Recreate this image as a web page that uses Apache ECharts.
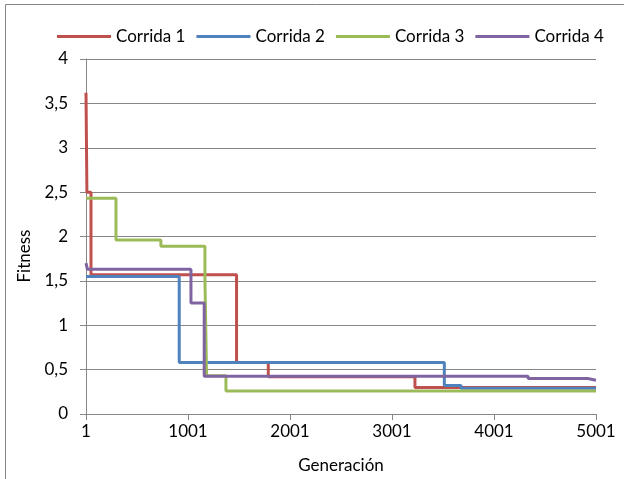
<!DOCTYPE html>
<html>
<head>
<meta charset="utf-8">
<script src="https://cdn.jsdelivr.net/npm/echarts@6/dist/echarts.min.js"></script>
<style>
html,body{margin:0;padding:0;background:#fff;}
#chart{width:624px;height:479px;}
</style>
</head>
<body>
<div id="chart"></div>
<script>
// Series names
const seriesNames = ['Corrida 1', 'Corrida 2', 'Corrida 3', 'Corrida 4'];
// Generation where each value begins (step data)
const gen1 = [1, 10, 50, 1477, 1788, 3226, 5001];
const fit1 = [3.62, 2.50, 1.57, 0.58, 0.42, 0.30, 0.30];
const gen2 = [1, 915, 3514, 3678, 5001];
const fit2 = [1.55, 0.58, 0.32, 0.29, 0.29];
const gen3 = [1, 295, 735, 1167, 1183, 1373, 5001];
const fit3 = [2.43, 1.96, 1.89, 1.53, 0.43, 0.26, 0.26];
const gen4 = [1, 15, 1030, 1160, 4335, 4920, 5001];
const fit4 = [1.70, 1.63, 1.25, 0.425, 0.40, 0.38, 0.38];
// Tick labels
const xTicks = [1, 1001, 2001, 3001, 4001, 5001];
const yTicks = [0, 0.5, 1, 1.5, 2, 2.5, 3, 3.5, 4];
const xTitle = 'Generación';
const yTitle = 'Fitness';

const colors = ['#C0504D', '#4F81BD', '#9BBB59', '#8064A2'];
const gens = [gen1, gen2, gen3, gen4];
const fits = [fit1, fit2, fit3, fit4];
const FONT = 'Lato';
const GRAY = '#868686';

const chart = echarts.init(document.getElementById('chart'), null, {renderer: 'canvas'});
const series = seriesNames.map((name, i) => ({
  name: name,
  type: 'line',
  step: 'end',
  showSymbol: false,
  symbol: 'none',
  animation: false,
  lineStyle: {color: colors[i], width: 3},
  itemStyle: {color: colors[i]},
  data: gens[i].map((g, j) => [g, fits[i][j]])
}));

chart.setOption({
  animation: false,
  color: colors,
  textStyle: {fontFamily: FONT},
  graphic: [{
    type: 'rect',
    shape: {x: 5.5, y: 4.5, width: 700, height: 600},
    style: {fill: 'none', stroke: GRAY, lineWidth: 1},
    silent: true,
    z: -1
  }, {
    type: 'text',
    x: 25,
    y: 256,
    rotation: Math.PI / 2,
    style: {text: yTitle, fill: '#000', font: '17px Lato', align: 'center', verticalAlign: 'middle'},
    silent: true
  }],
  legend: {
    left: 52,
    top: 23,
    icon: 'rect',
    itemWidth: 54,
    itemHeight: 3,
    itemGap: 11,
    textStyle: {fontFamily: FONT, fontSize: 17, color: '#000'},
    data: seriesNames
  },
  grid: {left: 86, right: 28, top: 59, bottom: 65},
  xAxis: {
    type: 'value',
    min: 1,
    max: 5001,
    name: xTitle,
    nameLocation: 'middle',
    nameGap: 43,
    nameTextStyle: {fontFamily: FONT, fontSize: 17, color: '#000'},
    axisLine: {show: true, lineStyle: {color: GRAY, width: 1}},
    axisTick: {show: true, inside: false, length: 6, lineStyle: {color: GRAY}, customValues: xTicks},
    axisLabel: {fontFamily: FONT, fontSize: 17, color: '#000', margin: 9, customValues: xTicks,
      formatter: v => String(v)},
    splitLine: {show: false}
  },
  yAxis: {
    type: 'value',
    min: 0,
    max: 4,
    interval: 0.5,
    axisLine: {show: true, lineStyle: {color: GRAY, width: 1}},
    axisTick: {show: true, inside: false, length: 6, lineStyle: {color: GRAY}},
    axisLabel: {fontFamily: FONT, fontSize: 17, color: '#000', margin: 18,
      formatter: v => String(v).replace('.', ',')},
    splitLine: {show: true, lineStyle: {color: GRAY, width: 1}}
  },
  series: series
});
</script>
</body>
</html>
